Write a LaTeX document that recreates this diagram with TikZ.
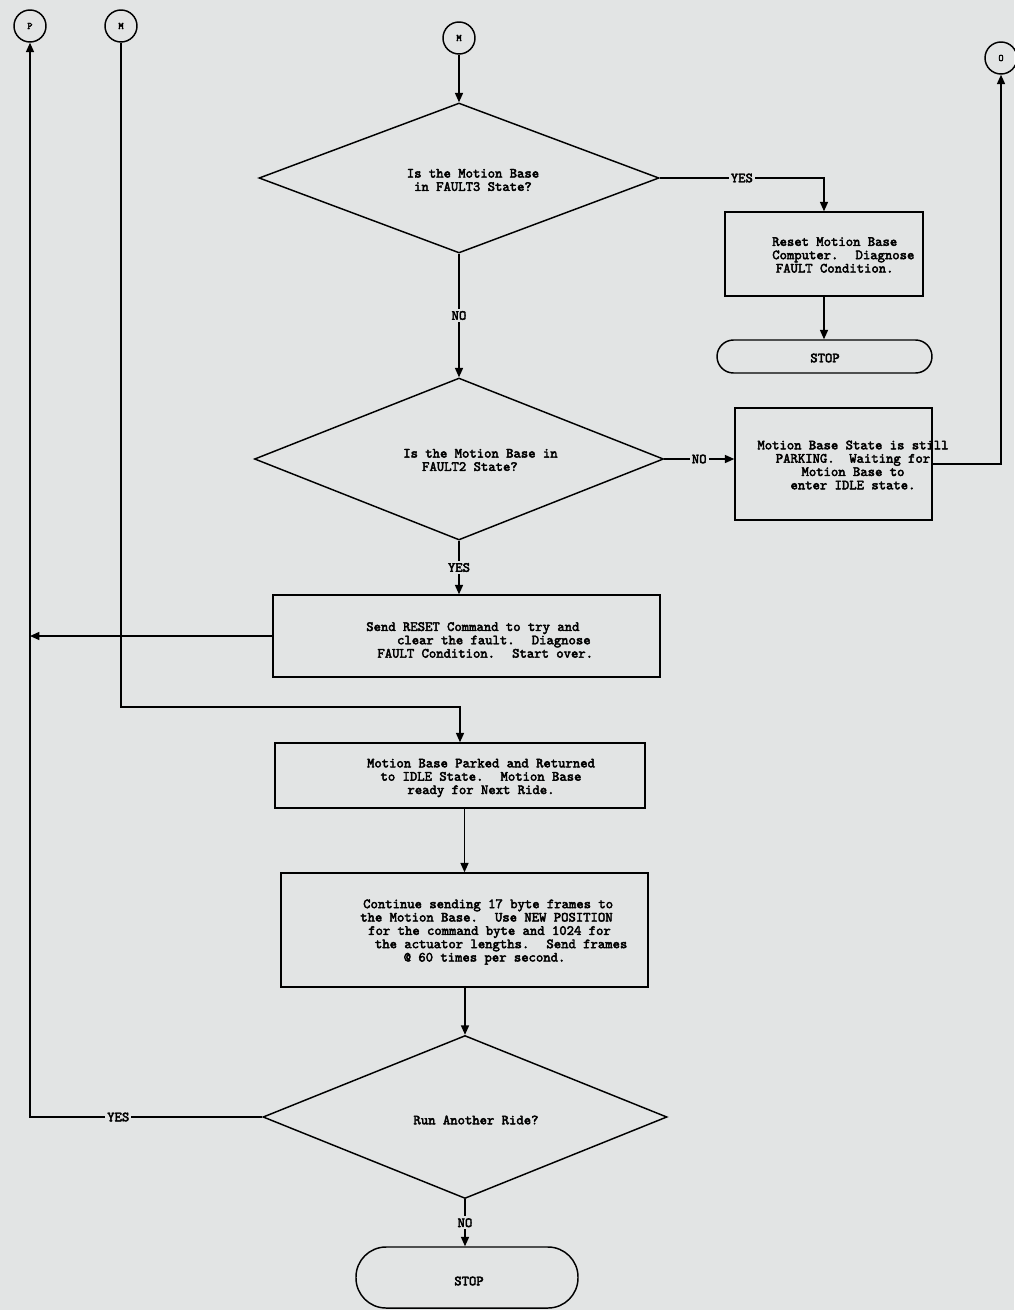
\documentclass[tikz,border=0pt]{standalone}
\usepackage{fontspec}
\newfontfamily\cour{lmmono10-regular.otf}[FakeBold=3]
\usetikzlibrary{arrows.meta,shapes.geometric}
\definecolor{bg}{RGB}{226,228,228}
\begin{document}
\begin{tikzpicture}[x=0.75pt,y=-0.75pt,
  every node/.style={font=\cour\fontsize{10.5pt}{10pt}\selectfont},
  ln/.style={line width=1.1pt, draw=black},
  arr/.style={ln, -{Triangle[length=7pt,width=6pt]}},
  boxn/.style={draw, line width=1.1pt, inner sep=0pt, rectangle},
  dia/.style={draw, line width=1.1pt, inner sep=0pt, shape=diamond},
  stopn/.style={draw, line width=1.1pt, inner sep=0pt, rectangle},
  conn/.style={draw, line width=1.1pt, circle, inner sep=0pt, minimum size=24pt, font=\cour\fontsize{7.5pt}{8pt}\selectfont},
  txt/.style={inner sep=0pt},
  lbl/.style={fill=bg, inner sep=1.5pt}]
\useasboundingbox (0,0) rectangle (1014,1310);
\fill[bg] (0,0) rectangle (1014,1310);

% connectors (circles)
\node[conn] (P) at (30,26) {P};
\node[conn] (M2) at (121,26) {M};
\node[conn] (M1) at (459,38) {M};
\node[conn] (O) at (1001,58) {O};

% decisions
\node[dia, minimum width=400*0.75pt, minimum height=150*0.75pt] (d1) at (459,178) {};
\node[txt, align=center] (d1t) at (473,180) {Is the Motion Base\\in FAULT3 State?};
\node[dia, minimum width=409*0.75pt, minimum height=162*0.75pt] (d2) at (459,459) {};
\node[txt, align=left, anchor=west] (d2t) at (403,460) {Is the Motion Base in\\\hspace*{1.35em}FAULT2 State?};
\node[dia, minimum width=404*0.75pt, minimum height=163*0.75pt] (d3) at (465,1117) {};
\node[txt] (d3t) at (476,1120) {Run Another Ride?};

% boxes
\node[boxn, minimum width=198*0.75pt, minimum height=84*0.75pt] (b1) at (824,254) {};
\node[txt, align=left, anchor=west] (b1t) at (772,255) {Reset Motion Base\\Computer.~ Diagnose\\\hspace*{0.26em}FAULT Condition.};
\node[stopn, rounded corners=12.4pt, minimum width=215*0.75pt, minimum height=33*0.75pt] (s1) at (824.5,356.5) {};
\node[txt] (s1t) at (825,358) {STOP};

\node[boxn, minimum width=197*0.75pt, minimum height=112*0.75pt] (b2) at (833.5,464) {};
\node[txt, align=center] (b2t) at (853,465) {Motion Base State is still\\PARKING.~ Waiting for\\Motion Base to\\enter IDLE state.};

\node[boxn, minimum width=387*0.75pt, minimum height=82*0.75pt] (b3) at (466.5,636) {};
\node[txt, align=left, anchor=west] (b3t) at (366,640) {Send RESET Command to try and\\\hspace*{2.2em}clear the fault.~ Diagnose\\\hspace*{0.8em}FAULT Condition.~ Start over.};

\node[boxn, minimum width=370*0.75pt, minimum height=65*0.75pt] (b4) at (460,775.5) {};
\node[txt, align=center] (b4t) at (481,778) {Motion Base Parked and Returned\\to IDLE State.~ Motion Base\\ready for Next Ride.};

\node[boxn, minimum width=367*0.75pt, minimum height=114*0.75pt] (b5) at (464.5,930) {};
\node[txt, align=left, anchor=west] (b5t) at (360,932) {\hspace*{0.21em}Continue sending 17 byte frames to\\the Motion Base.~ Use NEW POSITION\\\hspace*{0.57em}for the command byte and 1024 for\\\hspace*{1.05em}the actuator lengths.~ Send frames\\\hspace*{3.1em}@ 60 times per second.};

\node[stopn, rounded corners=22.5pt, minimum width=222*0.75pt, minimum height=61*0.75pt] (s2) at (467,1277.5) {};
\node[txt] (s2t) at (469,1281) {STOP};

\coordinate (mj) at (121,707);

% connectors
\draw[arr] (M1) -- (d1.north);
\draw[arr] (d1.east) -- node[lbl]{YES} (d1.east -| b1.north) -- (b1.north);
\draw[arr] (b1.south) -- (b1.south |- s1.north);
\draw[arr] (d1.south) -- node[lbl]{NO} (d2.north);
\draw[arr] (d2.east) -- node[lbl]{NO} (d2.east -| b2.west);
\draw[arr] (b2.east) -- (b2.east -| O.south) -- (O.south);
\draw[arr] (d2.south) -- node[lbl]{YES} (d2.south |- b3.north);
\draw[arr] (b3.west) -- (b3.west -| P.south);
\draw[arr] (M2.south) -- (mj) -| (b4.north);
\draw[arr] (b5.north |- b4.south) -- (b5.north);
\draw[arr] (d3.north |- b5.south) -- (d3.north);
\draw[arr] (d3.west) -- node[lbl, pos=0.62]{YES} (d3.west -| P.south) -- (P.south);
\draw[arr] (d3.south) -- node[lbl]{NO} (d3.south |- s2.north);
\end{tikzpicture}
\end{document}
